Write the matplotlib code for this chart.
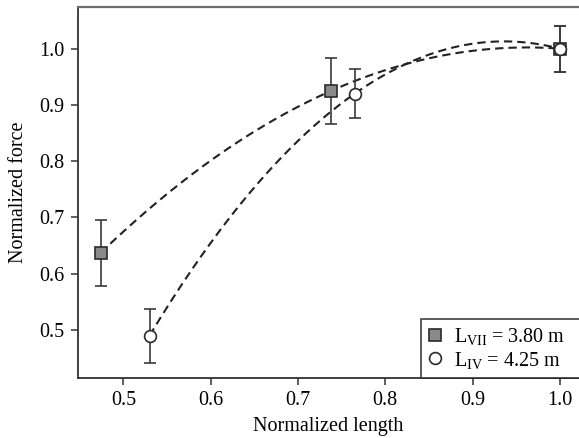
import matplotlib
matplotlib.use("Agg")
import matplotlib.pyplot as plt
import numpy as np

# Measured points (normalized length, normalized force, +/- error)
L7_X = [0.474, 0.738, 1.0]
L7_Y = [0.637, 0.925, 1.0]
L7_ERR = [0.059, 0.059, 0.041]

L4_X = [0.530, 0.765, 1.0]
L4_Y = [0.490, 0.920, 1.0]
L4_ERR = [0.048, 0.043, 0.041]

L7_LABEL = r"L$_{\mathrm{VII}}$ = 3.80 m"
L4_LABEL = r"L$_{\mathrm{IV}}$ = 4.25 m"

XTICKS = [0.5, 0.6, 0.7, 0.8, 0.9, 1.0]
YTICKS = [0.5, 0.6, 0.7, 0.8, 0.9, 1.0]

plt.rcParams["font.family"] = ["Liberation Serif", "DejaVu Serif"]
plt.rcParams["mathtext.fontset"] = "custom"
plt.rcParams["mathtext.rm"] = "Liberation Serif"
plt.rcParams["mathtext.it"] = "Liberation Serif:italic"
plt.rcParams["font.size"] = 14.5

fig = plt.figure(figsize=(5.79, 4.38), dpi=100)
ax = fig.add_axes([0.1347, 0.138, 0.8653, 0.8465])

dash = (0, (4.0, 2.4))
edge = "#2b2b2b"


def fit_curve(xs, ys):
    # quadratic trend through the measured points
    c = np.polyfit(xs, ys, 2)
    xx = np.linspace(min(xs), max(xs), 200)
    return xx, np.polyval(c, xx)


for xs, ys in [(L7_X, L7_Y), (L4_X, L4_Y)]:
    xx, yy = fit_curve(xs, ys)
    ax.plot(xx, yy, color="#222222", lw=1.5, linestyle=dash, zorder=2)

ax.errorbar(L7_X, L7_Y, yerr=L7_ERR, fmt="none", ecolor="#3a3a3a",
            elinewidth=1.2, capsize=4.2, capthick=1.2, zorder=3)
ax.errorbar(L4_X, L4_Y, yerr=L4_ERR, fmt="none", ecolor="#3a3a3a",
            elinewidth=1.2, capsize=4.2, capthick=1.2, zorder=3)

ax.plot(L7_X, L7_Y, "s", ms=8, mfc="#8a8a8a", mec=edge, mew=1.2,
        linestyle="none", label=L7_LABEL, zorder=4)
ax.plot(L4_X, L4_Y, "o", ms=8.5, mfc="white", mec=edge, mew=1.2,
        linestyle="none", label=L4_LABEL, zorder=5)

ax.set_xlim(0.448, 1.022)
ax.set_ylim(0.4154, 1.0744)
ax.set_xticks(XTICKS)
ax.set_yticks(YTICKS)
ax.set_xticklabels([f"{v:.1f}" for v in XTICKS])
ax.set_yticklabels([f"{v:.1f}" for v in YTICKS])
ax.tick_params(direction="out", length=5, width=1.1, color="#333333",
               top=False, right=False, pad=5)

ax.spines["right"].set_visible(False)
ax.spines["top"].set_color("#6e6e6e")
ax.spines["top"].set_linewidth(1.6)
for s in ["left", "bottom"]:
    ax.spines[s].set_color("#333333")
    ax.spines[s].set_linewidth(1.3)

ax.set_xlabel("Normalized length", labelpad=5)
ax.set_ylabel("Normalized force", labelpad=8)

# legend box runs off the right edge, as in the source figure
leg = ax.legend(loc="lower left", bbox_to_anchor=(0.685, 0.0, 0.33, 0.2),
                mode="expand", borderaxespad=0, frameon=True, fancybox=False,
                handlelength=0.7, handletextpad=0.6, labelspacing=0.1,
                borderpad=0.35, fontsize=14.5)
leg.get_frame().set_edgecolor("#222222")
leg.get_frame().set_linewidth(1.3)

fig.savefig("out.png", dpi=100)
